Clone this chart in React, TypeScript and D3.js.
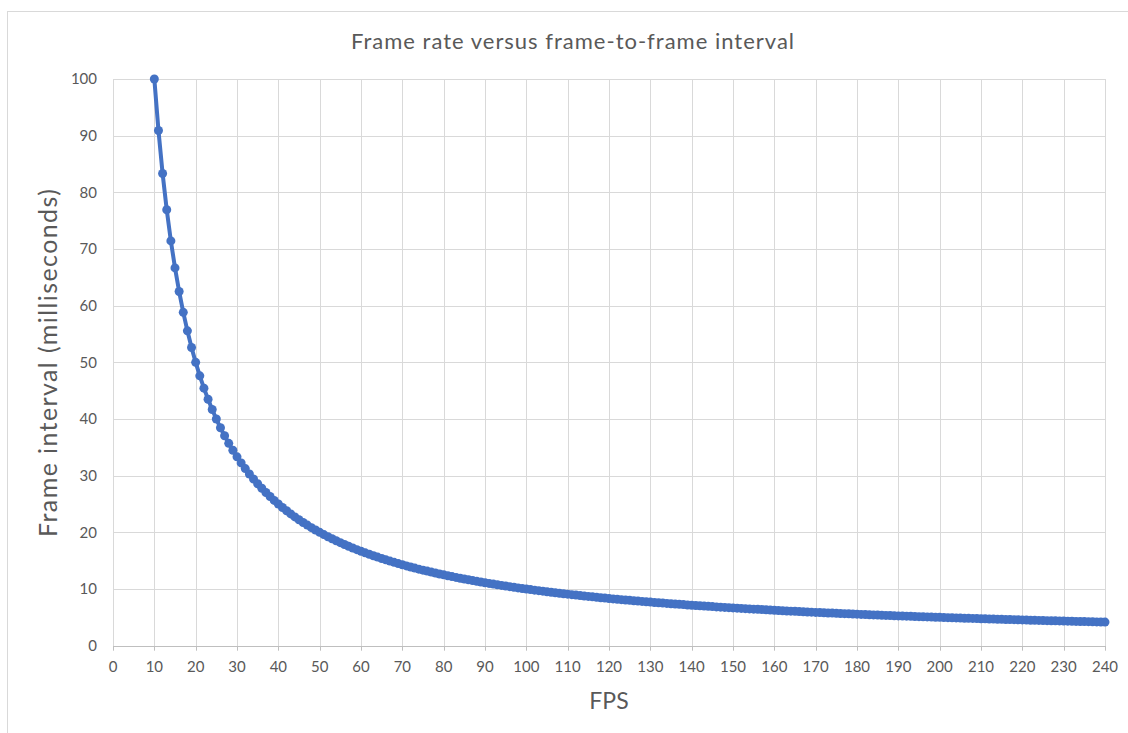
import React from "react";
import * as d3 from "d3";

const fps: number[] = d3.range(10, 241);
const intervalMs: number[] = [
  100, 90.91, 83.33, 76.92, 71.43, 66.67, 62.5, 58.82, 55.56, 52.63,
  50, 47.62, 45.45, 43.48, 41.67, 40, 38.46, 37.04, 35.71, 34.48,
  33.33, 32.26, 31.25, 30.3, 29.41, 28.57, 27.78, 27.03, 26.32, 25.64,
  25, 24.39, 23.81, 23.26, 22.73, 22.22, 21.74, 21.28, 20.83, 20.41,
  20, 19.61, 19.23, 18.87, 18.52, 18.18, 17.86, 17.54, 17.24, 16.95,
  16.67, 16.39, 16.13, 15.87, 15.63, 15.38, 15.15, 14.93, 14.71, 14.49,
  14.29, 14.08, 13.89, 13.7, 13.51, 13.33, 13.16, 12.99, 12.82, 12.66,
  12.5, 12.35, 12.2, 12.05, 11.9, 11.76, 11.63, 11.49, 11.36, 11.24,
  11.11, 10.99, 10.87, 10.75, 10.64, 10.53, 10.42, 10.31, 10.2, 10.1,
  10, 9.9, 9.8, 9.71, 9.62, 9.52, 9.43, 9.35, 9.26, 9.17,
  9.09, 9.01, 8.93, 8.85, 8.77, 8.7, 8.62, 8.55, 8.47, 8.4,
  8.33, 8.26, 8.2, 8.13, 8.06, 8.0, 7.94, 7.87, 7.81, 7.75,
  7.69, 7.63, 7.58, 7.52, 7.46, 7.41, 7.35, 7.3, 7.25, 7.19,
  7.14, 7.09, 7.04, 6.99, 6.94, 6.9, 6.85, 6.8, 6.76, 6.71,
  6.67, 6.62, 6.58, 6.54, 6.49, 6.45, 6.41, 6.37, 6.33, 6.29,
  6.25, 6.21, 6.17, 6.13, 6.1, 6.06, 6.02, 5.99, 5.95, 5.92,
  5.88, 5.85, 5.81, 5.78, 5.75, 5.71, 5.68, 5.65, 5.62, 5.59,
  5.56, 5.52, 5.49, 5.46, 5.43, 5.41, 5.38, 5.35, 5.32, 5.29,
  5.26, 5.24, 5.21, 5.18, 5.15, 5.13, 5.1, 5.08, 5.05, 5.03,
  5, 4.98, 4.95, 4.93, 4.9, 4.88, 4.85, 4.83, 4.81, 4.78,
  4.76, 4.74, 4.72, 4.69, 4.67, 4.65, 4.63, 4.61, 4.59, 4.57,
  4.55, 4.52, 4.5, 4.48, 4.46, 4.44, 4.42, 4.41, 4.39, 4.37,
  4.35, 4.33, 4.31, 4.29, 4.27, 4.26, 4.24, 4.22, 4.2, 4.18,
  4.17,
];
const xTicks: number[] = d3.range(0, 241, 10);
const yTicks: number[] = d3.range(0, 101, 10);

const title = "Frame rate versus frame-to-frame interval";
const xTitle = "FPS";
const yTitle = "Frame interval (milliseconds)";

const W = 1128;
const H = 733;
const left = 113;
const right = 1105;
const top = 79;
const bottom = 645.7;
const FONT = "Lato, 'Open Sans', sans-serif";
const TEXT = "#595959";
const BLUE = "#4472C4";

export default function App() {
  const x = d3.scaleLinear().domain([0, 240]).range([left, right]);
  const y = d3.scaleLinear().domain([0, 100]).range([bottom, top]);
  const pts = fps.map((f, i) => [f, intervalMs[i]] as [number, number]);
  const line = d3
    .line<[number, number]>()
    .x((d) => x(d[0]))
    .y((d) => y(d[1]));

  return (
    <svg
      width={W}
      height={H}
      style={{ position: "absolute", left: 0, top: 0, background: "#fff" }}
    >
      <rect x={0} y={0} width={W} height={H} fill="#fff" />
      <rect
        x={7.5}
        y={11.5}
        width={W + 50}
        height={H + 50}
        fill="#fff"
        stroke="#d9d9d9"
        strokeWidth={1}
      />
      <text
        x={573}
        y={49}
        textAnchor="middle"
        fontFamily={FONT}
        fontSize={22}
        letterSpacing={1}
        fill={TEXT}
      >
        {title}
      </text>
      {/* grid */}
      {yTicks.map((t) => (
        <line
          key={"gy" + t}
          x1={left}
          x2={right}
          y1={Math.round(y(t)) + 0.5}
          y2={Math.round(y(t)) + 0.5}
          stroke={t === 0 ? "#bfbfbf" : "#d9d9d9"}
          strokeWidth={1}
        />
      ))}
      {xTicks.map((t) => (
        <line
          key={"gx" + t}
          x1={Math.round(x(t)) + 0.5}
          x2={Math.round(x(t)) + 0.5}
          y1={top}
          y2={bottom}
          stroke="#d9d9d9"
          strokeWidth={1}
        />
      ))}
      {xTicks.map((t) => (
        <line
          key={"tx" + t}
          x1={Math.round(x(t)) + 0.5}
          x2={Math.round(x(t)) + 0.5}
          y1={bottom}
          y2={bottom + 5}
          stroke="#bfbfbf"
          strokeWidth={1}
        />
      ))}
      {/* tick labels */}
      {yTicks.map((t) => (
        <text
          key={"ly" + t}
          x={97}
          y={y(t)}
          dy="0.35em"
          textAnchor="end"
          fontFamily={FONT}
          fontSize={15}
          fill={TEXT}
        >
          {t}
        </text>
      ))}
      {xTicks.map((t) => (
        <text
          key={"lx" + t}
          x={x(t)}
          y={672}
          textAnchor="middle"
          fontFamily={FONT}
          fontSize={15}
          fill={TEXT}
        >
          {t}
        </text>
      ))}
      {/* series */}
      <path
        d={line(pts) || ""}
        fill="none"
        stroke={BLUE}
        strokeWidth={4}
        strokeLinejoin="round"
        strokeLinecap="round"
      />
      {pts.map((p, i) => (
        <circle key={i} cx={x(p[0])} cy={y(p[1])} r={4.5} fill={BLUE} />
      ))}
      {/* axis titles */}
      <text
        x={609}
        y={709}
        textAnchor="middle"
        fontFamily={FONT}
        fontSize={23}
        fill={TEXT}
      >
        {xTitle}
      </text>
      <text
        transform={`translate(57, ${(top + bottom) / 2}) rotate(-90)`}
        textAnchor="middle"
        fontFamily={FONT}
        fontSize={25}
        letterSpacing={1.4}
        fill={TEXT}
      >
        {yTitle}
      </text>
    </svg>
  );
}
